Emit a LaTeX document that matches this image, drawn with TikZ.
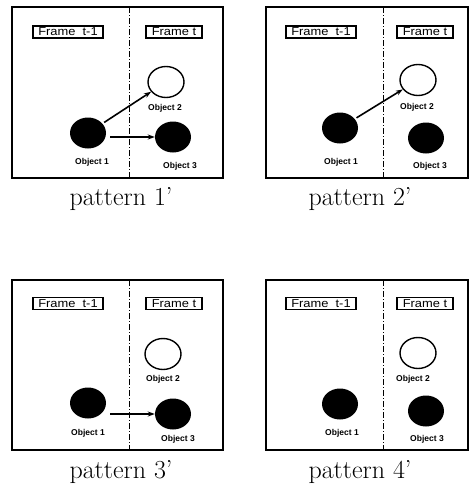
\documentclass[tikz,border=0pt]{standalone}
\usepackage{fontspec}
\newfontfamily\labelfont{Liberation Sans}
\usetikzlibrary{shapes.geometric,arrows.meta,calc}
\begin{document}
\begin{tikzpicture}[x=1pt,y=-1pt,
  panelbox/.style={draw,line width=2pt},
  divider/.style={line width=0.9pt,dash pattern=on 6pt off 2pt on 1pt off 2pt},
  framelabel/.style={draw,line width=1.8pt,minimum height=12pt,inner sep=1pt,
    font=\labelfont\fontsize{11.5}{11.5}\selectfont},
  hollowobj/.style={ellipse,draw,line width=1.4pt,minimum width=36pt,minimum height=31pt,inner sep=0pt},
  solidobj/.style={ellipse,fill=black,minimum width=36pt,minimum height=31pt,inner sep=0pt},
  objlabel/.style={font=\labelfont\bfseries\fontsize{8.5}{8.5}\selectfont,inner sep=0pt},
  link/.style={line width=1.6pt,-{Stealth[length=7pt,width=5pt]},shorten <=2pt},
  caption/.style={font=\fontsize{26}{30}\selectfont,inner sep=0pt,anchor=base}]
\useasboundingbox (0,0) rectangle (470,490);

% pattern 1'
\begin{scope}[shift={(12,7)}]
  \draw[panelbox] (0,0) rectangle (211,171);
  \draw[divider] (117,0) -- (117,171);
  \node[framelabel,minimum width=70pt] (p1prev) at (56,25) {\scalebox{1.12}[1]{Frame\ \ t-1}};
  \node[framelabel,minimum width=56pt] (p1cur) at (162,25) {\scalebox{1.12}[1]{Frame t}};
  \node[hollowobj] (p1o2) at (154,75) {};
  \node[solidobj] (p1o1) at (76,126) {};
  \node[solidobj] (p1o3) at (161,130) {};
  \node[objlabel] (p1l2) at (153,101) {Object 2};
  \node[objlabel] (p1l1) at (80,155) {Object 1};
  \node[objlabel] (p1l3) at (168,159) {Object 3};
  \draw[link] (p1o1) -- (p1o2);
  \draw[link] ([xshift=2pt]p1o1.east |- p1o3.center) -- (p1o3.west);
\end{scope}
\node[caption] (c1) at (121,205) {pattern 1'};

% pattern 2'
\begin{scope}[shift={(266,7)}]
  \draw[panelbox] (0,0) rectangle (202,171);
  \draw[divider] (117,0) -- (117,171);
  \node[framelabel,minimum width=70pt] (p2prev) at (55,25) {\scalebox{1.12}[1]{Frame\ \ t-1}};
  \node[framelabel,minimum width=56pt] (p2cur) at (159,25) {\scalebox{1.12}[1]{Frame t}};
  \node[hollowobj] (p2o2) at (152,73) {};
  \node[solidobj] (p2o1) at (74,121) {};
  \node[solidobj] (p2o3) at (160,131) {};
  \node[objlabel] (p2l2) at (151,100) {Object 2};
  \node[objlabel] (p2l1) at (75,155) {Object 1};
  \node[objlabel] (p2l3) at (164,159) {Object 3};
  \draw[link] (p2o1) -- (p2o2);
\end{scope}
\node[caption] (c2) at (360,205) {pattern 2'};

% pattern 3'
\begin{scope}[shift={(12,280)}]
  \draw[panelbox] (0,0) rectangle (211,170);
  \draw[divider] (117,0) -- (117,170);
  \node[framelabel,minimum width=70pt] (p3prev) at (56,23.5) {\scalebox{1.12}[1]{Frame\ \ t-1}};
  \node[framelabel,minimum width=56pt] (p3cur) at (162,23.5) {\scalebox{1.12}[1]{Frame t}};
  \node[hollowobj] (p3o2) at (151,74) {};
  \node[solidobj] (p3o1) at (76,123) {};
  \node[solidobj] (p3o3) at (161,134) {};
  \node[objlabel] (p3l2) at (151,99) {Object 2};
  \node[objlabel] (p3l1) at (76,153) {Object 1};
  \node[objlabel] (p3l3) at (166,159) {Object 3};
  \draw[link] ([xshift=2pt]p3o1.east |- p3o3.center) -- (p3o3.west);
\end{scope}
\node[caption] (c3) at (121,478) {pattern 3'};

% pattern 4'
\begin{scope}[shift={(266,280)}]
  \draw[panelbox] (0,0) rectangle (202,170);
  \draw[divider] (117,0) -- (117,170);
  \node[framelabel,minimum width=70pt] (p4prev) at (55,23.5) {\scalebox{1.12}[1]{Frame\ \ t-1}};
  \node[framelabel,minimum width=56pt] (p4cur) at (159,23.5) {\scalebox{1.12}[1]{Frame t}};
  \node[hollowobj] (p4o2) at (152,73) {};
  \node[solidobj] (p4o1) at (74,124) {};
  \node[solidobj] (p4o3) at (160,131) {};
  \node[objlabel] (p4l2) at (147,99) {Object 2};
  \node[objlabel] (p4l1) at (76,153) {Object 1};
  \node[objlabel] (p4l3) at (161,159) {Object 3};
\end{scope}
\node[caption] (c4) at (360,478) {pattern 4'};
\end{tikzpicture}
\end{document}
